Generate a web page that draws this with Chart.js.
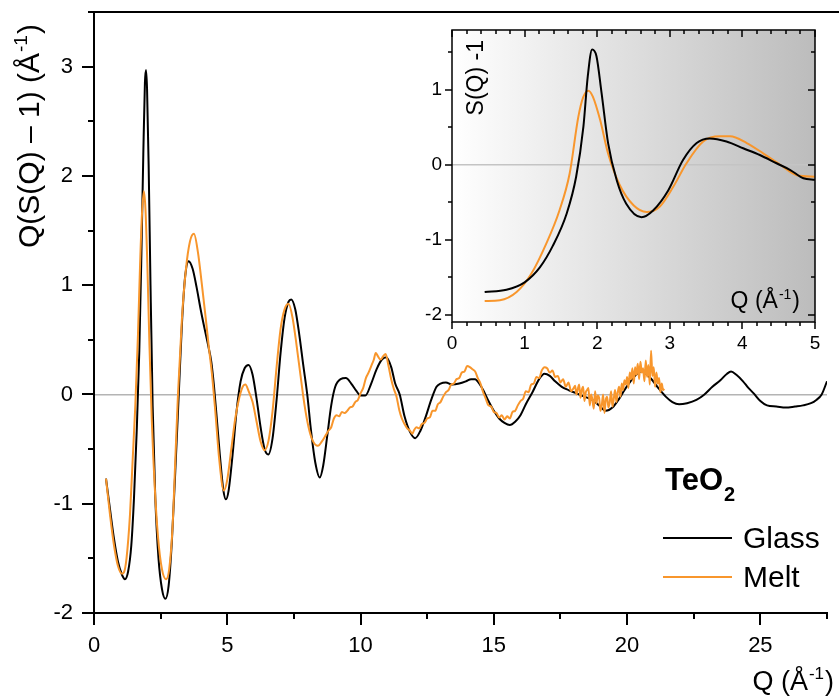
<!DOCTYPE html>
<html>
<head>
<meta charset="utf-8">
<title>TeO2 Q(S(Q)-1)</title>
<script src="https://cdn.jsdelivr.net/npm/chart.js@4.4.1/dist/chart.umd.min.js"></script>
<style>
  html, body { margin: 0; padding: 0; background: #fff; }
  #wrap { position: relative; width: 839px; height: 698px; }
  #main { position: absolute; left: 0; top: 0; }
  #inset { position: absolute; left: 400px; top: 0; }
</style>
</head>
<body>
<div id="wrap">
  <canvas id="main" width="839" height="698"></canvas>
  <canvas id="inset" width="439" height="360"></canvas>
</div>
<script>
// Main plot: Q(S(Q)-1) vs Q
const glassQ = [0.45, 0.6, 0.75, 0.9, 1.05, 1.16, 1.28, 1.4, 1.5, 1.6, 1.7, 1.78, 1.85, 1.91, 1.95, 1.99, 2.05, 2.12, 2.2, 2.3,
  2.42, 2.55, 2.68, 2.8, 2.92, 3.05, 3.18, 3.3, 3.42, 3.55, 3.7, 3.85, 4.0, 4.15, 4.3, 4.4, 4.5, 4.6, 4.72, 4.85,
  4.95, 5.05, 5.2, 5.35, 5.5, 5.65, 5.8, 5.95, 6.1, 6.25, 6.4, 6.54, 6.7, 6.85, 7.0, 7.15, 7.3, 7.4, 7.55, 7.7,
  7.85, 8.0, 8.15, 8.3, 8.47, 8.6, 8.75, 8.9, 9.05, 9.25, 9.45, 9.65, 9.85, 10.0, 10.18, 10.4, 10.6, 10.8, 10.97, 11.15,
  11.3, 11.47, 11.65, 11.85, 12.05, 12.25, 12.45, 12.65, 12.85, 13.0, 13.2, 13.45, 13.7, 13.95, 14.15, 14.3, 14.45, 14.6, 14.8, 15.0,
  15.2, 15.4, 15.6, 15.8, 16.0, 16.2, 16.45, 16.7, 16.9, 17.1, 17.3, 17.55, 17.8, 18.1, 18.4, 18.7, 18.95, 19.2, 19.45, 19.7,
  19.9, 20.1, 20.3, 20.5, 20.7, 20.95, 21.2, 21.45, 21.7, 21.95, 22.25, 22.6, 22.9, 23.2, 23.5, 23.75, 23.9, 24.1, 24.35, 24.55,
  24.75, 25.0, 25.25, 25.6, 25.95, 26.3, 26.6, 26.9, 27.1, 27.3, 27.5];
const glassS = [-0.77, -1.05, -1.32, -1.53, -1.65, -1.69, -1.62, -1.38, -0.95, -0.35, 0.4, 1.3, 2.2, 2.85, 2.97, 2.8, 2.1, 1.0, -0.1, -0.95,
  -1.5, -1.78, -1.87, -1.75, -1.35, -0.7, 0.0, 0.65, 1.08, 1.22, 1.15, 0.98, 0.78, 0.6, 0.43, 0.3, 0.08, -0.2, -0.55, -0.87,
  -0.96, -0.88, -0.55, -0.15, 0.12, 0.24, 0.27, 0.18, -0.04, -0.3, -0.5, -0.55, -0.4, -0.05, 0.38, 0.7, 0.85, 0.87, 0.78, 0.55,
  0.27, 0.0, -0.35, -0.62, -0.76, -0.65, -0.38, -0.1, 0.07, 0.14, 0.15, 0.1, 0.03, -0.01, -0.01, 0.1, 0.23, 0.32, 0.34, 0.25,
  0.1, 0.0, -0.2, -0.34, -0.4, -0.33, -0.2, -0.05, 0.07, 0.1, 0.11, 0.09, 0.1, 0.12, 0.14, 0.14, 0.1, 0.04, -0.06, -0.15,
  -0.22, -0.26, -0.28, -0.25, -0.19, -0.09, 0.02, 0.14, 0.19, 0.17, 0.12, 0.07, 0.04, 0.01, -0.02, -0.05, -0.1, -0.15, -0.12, -0.04,
  0.04, 0.11, 0.17, 0.21, 0.19, 0.13, 0.05, -0.02, -0.07, -0.09, -0.08, -0.05, 0.0, 0.07, 0.13, 0.19, 0.21, 0.18, 0.12, 0.06,
  0.01, -0.06, -0.1, -0.11, -0.12, -0.11, -0.1, -0.08, -0.05, 0.0, 0.12];

const meltQ = [0.45, 0.6, 0.75, 0.9, 1.05, 1.12, 1.22, 1.35, 1.45, 1.55, 1.65, 1.73, 1.8, 1.87, 1.93, 2.0, 2.08, 2.17, 2.28, 2.4,
  2.55, 2.7, 2.82, 2.95, 3.05, 3.15, 3.3, 3.45, 3.6, 3.75, 3.9, 4.05, 4.2, 4.3, 4.42, 4.55, 4.7, 4.87, 5.0, 5.15,
  5.3, 5.45, 5.6, 5.68, 5.8, 5.95, 6.1, 6.25, 6.4, 6.55, 6.7, 6.85, 7.0, 7.15, 7.3, 7.45, 7.6, 7.75, 7.9, 8.05,
  8.2, 8.4, 8.55, 8.7, 8.8, 8.9, 9.0, 9.1, 9.2, 9.3, 9.4, 9.5, 9.6, 9.7, 9.8, 9.9, 10.0, 10.1, 10.2, 10.3,
  10.4, 10.5, 10.57, 10.65, 10.75, 10.85, 10.94, 11.05, 11.15, 11.25, 11.35, 11.45, 11.55, 11.65, 11.75, 11.85, 11.95, 12.0, 12.1, 12.2,
  12.3, 12.4, 12.5, 12.6, 12.7, 12.8, 12.9, 13.0, 13.1, 13.2, 13.3, 13.4, 13.5, 13.6, 13.7, 13.8, 13.9, 14.0, 14.1, 14.2,
  14.3, 14.4, 14.5, 14.6, 14.7, 14.8, 14.9, 15.0, 15.1, 15.2, 15.3, 15.4, 15.5, 15.6, 15.7, 15.8, 15.9, 16.0, 16.1, 16.2,
  16.3, 16.4, 16.5, 16.6, 16.7, 16.8, 16.9, 17.0, 17.1, 17.2, 17.3, 17.4, 17.5, 17.6, 17.7, 17.8, 17.9,
  18.0, 18.05, 18.1, 18.15, 18.2, 18.25, 18.3, 18.35, 18.4, 18.45, 18.5, 18.55, 18.6, 18.65, 18.7, 18.75, 18.8, 18.85, 18.9, 18.95,
  19.0, 19.05, 19.1, 19.15, 19.2, 19.25, 19.3, 19.35, 19.4, 19.45, 19.5, 19.55, 19.6, 19.65, 19.7, 19.75, 19.8, 19.85, 19.9, 19.95,
  20.0, 20.05, 20.1, 20.15, 20.2, 20.25, 20.3, 20.35, 20.4, 20.45, 20.5, 20.55, 20.6, 20.65, 20.7, 20.75, 20.8, 20.85, 20.9, 20.95,
  21.0, 21.05, 21.1, 21.15, 21.2, 21.25, 21.3, 21.35, 21.4];
const meltS = [-0.77, -1.1, -1.38, -1.57, -1.64, -1.63, -1.5, -1.1, -0.6, -0.1, 0.55, 1.2, 1.65, 1.86, 1.7, 1.2, 0.45, -0.25, -0.85, -1.3,
  -1.6, -1.69, -1.6, -1.2, -0.6, 0.0, 0.7, 1.15, 1.4, 1.47, 1.3, 1.0, 0.68, 0.45, 0.2, -0.15, -0.6, -0.88, -0.78, -0.5,
  -0.22, -0.03, 0.08, 0.09, 0.03, -0.07, -0.25, -0.43, -0.51, -0.42, -0.15, 0.25, 0.6, 0.78, 0.83, 0.7, 0.45, 0.17, -0.1, -0.3,
  -0.42, -0.47, -0.43, -0.37, -0.33, -0.3, -0.22, -0.19, -0.2, -0.16, -0.17, -0.15, -0.12, -0.11, -0.07, -0.05, 0.01, 0.06, 0.15, 0.2,
  0.26, 0.32, 0.38, 0.35, 0.32, 0.35, 0.37, 0.26, 0.14, 0.05, -0.02, -0.14, -0.22, -0.27, -0.31, -0.33, -0.36, -0.33, -0.3, -0.31,
  -0.27, -0.26, -0.22, -0.21, -0.15, -0.15, -0.09, -0.07, -0.02, 0.02, 0.04, 0.09, 0.1, 0.14, 0.15, 0.2, 0.21, 0.26, 0.25, 0.23,
  0.21, 0.15, 0.1, 0.02, -0.04, -0.1, -0.11, -0.16, -0.17, -0.21, -0.19, -0.23, -0.2, -0.22, -0.16, -0.15, -0.1, -0.06, -0.04, 0.03,
  0.02, 0.09, 0.1, 0.16, 0.15, 0.22, 0.25, 0.24, 0.2, 0.22, 0.16, 0.17, 0.11, 0.14, 0.07, 0.11, 0.03,
  0.06, 0.08, 0.0, 0.05, 0.09, -0.03, 0.04, 0.07, -0.06, 0.02, 0.04, 0.06, -0.1, 0.0, -0.05, -0.13, 0.03, -0.08, -0.01, -0.03,
  -0.15, -0.1, 0.0, -0.17, -0.05, -0.02, -0.12, -0.07, 0.03, -0.11, -0.04, 0.04, -0.07, 0.02, 0.07, -0.02, 0.1, 0.04, 0.13, 0.09,
  0.16, 0.06, 0.2, 0.14, 0.24, 0.1, 0.25, 0.18, 0.28, 0.14, 0.3, 0.2, 0.24, 0.12, 0.31, 0.16, 0.27, 0.09, 0.4, 0.17,
  0.25, 0.07, 0.2, 0.1, 0.15, 0.02, 0.1, 0.04, 0.05];

// Inset: S(Q) - 1 at low Q
const insetGlassQ = [0.45, 0.75, 1.0, 1.21, 1.39, 1.58, 1.71, 1.81, 1.87, 1.93, 1.99, 2.06, 2.15, 2.27, 2.4, 2.61, 2.77, 2.98, 3.18, 3.37,
  3.55, 3.78, 4.01, 4.24, 4.47, 4.66, 4.84, 5.0];
const insetGlassS = [-1.7, -1.67, -1.57, -1.37, -1.08, -0.65, -0.16, 0.51, 1.18, 1.54, 1.45, 0.96, 0.29, -0.21, -0.52, -0.7, -0.61, -0.34, 0.06, 0.29,
  0.35, 0.31, 0.22, 0.13, 0.02, -0.07, -0.18, -0.2];
const insetMeltQ = [0.45, 0.66, 0.89, 1.09, 1.3, 1.48, 1.62, 1.74, 1.81, 1.88, 1.94, 2.04, 2.15, 2.31, 2.5, 2.68, 2.86, 3.05, 3.23, 3.46,
  3.69, 3.83, 4.06, 4.29, 4.52, 4.75, 5.0];
const insetMeltS = [-1.82, -1.81, -1.7, -1.46, -1.05, -0.61, -0.12, 0.64, 0.91, 0.99, 0.91, 0.6, 0.15, -0.27, -0.54, -0.63, -0.56, -0.29, 0.02, 0.31,
  0.38, 0.38, 0.29, 0.15, 0.0, -0.14, -0.16];

// Tick labels
const mainXLabels = [0, 5, 10, 15, 20, 25];
const mainYLabels = [-2, -1, 0, 1, 2, 3];
const insetXLabels = [0, 1, 2, 3, 4, 5];
const insetYLabels = [-2, -1, 0, 1];

const FONT = '"Liberation Sans", Arial, sans-serif';
const ORANGE = '#f8962c';

function pairs(xs, ys) {
  return xs.map((q, i) => ({ x: q, y: ys[i] }));
}

// "base(Å" + superscript -1 + ")"
function drawUnitLabel(ctx, x, y, base, size, align) {
  const big = `${size}px ${FONT}`;
  const small = `${Math.round(size * 0.62)}px ${FONT}`;
  ctx.font = big;
  const w1 = ctx.measureText(base + '(Å').width;
  const w3 = ctx.measureText(')').width;
  ctx.font = small;
  const w2 = ctx.measureText('-1').width;
  const sx = align === 'right' ? x - (w1 + w2 + w3 + 2) : x;
  ctx.textAlign = 'left';
  ctx.textBaseline = 'alphabetic';
  ctx.fillStyle = '#000';
  ctx.font = big;
  ctx.fillText(base + '(Å', sx, y);
  ctx.font = small;
  ctx.fillText('-1', sx + w1 + 1, y - size * 0.4);
  ctx.font = big;
  ctx.fillText(')', sx + w1 + w2 + 2, y);
}

function tick(ctx, x1, y1, x2, y2) {
  ctx.moveTo(x1, y1);
  ctx.lineTo(x2, y2);
}

// no extra room for half tick labels above/below the plot
function fixPadding(s) {
  s.paddingTop = 0;
  s.paddingBottom = 0;
}

const mainDecor = {
  id: 'mainDecor',
  afterDraw(chart) {
    const { ctx, chartArea: a, scales: { x, y } } = chart;
    ctx.save();
    ctx.strokeStyle = '#000';
    ctx.lineWidth = 2;
    ctx.beginPath();
    tick(ctx, a.left - 1, a.top, chart.width, a.top);
    for (let v = 0; v <= 27.5; v += 2.5) {
      const px = Math.round(x.getPixelForValue(v));
      tick(ctx, px, a.bottom, px, a.bottom + (v % 5 === 0 ? 12 : 6));
    }
    for (let v = -2; v <= 3.5; v += 0.5) {
      const py = Math.round(y.getPixelForValue(v));
      tick(ctx, a.left, py, a.left - (Number.isInteger(v) ? 12 : 6), py);
    }
    ctx.stroke();

    // axis titles
    ctx.save();
    ctx.translate(39, 248);
    ctx.rotate(-Math.PI / 2);
    drawUnitLabel(ctx, 0, 0, 'Q(S(Q) – 1) ', 30, 'left');
    ctx.restore();
    drawUnitLabel(ctx, 834, 690, 'Q ', 27, 'right');

    // legend
    ctx.fillStyle = '#000';
    ctx.textAlign = 'left';
    ctx.textBaseline = 'alphabetic';
    ctx.font = `bold 31px ${FONT}`;
    ctx.fillText('TeO', 665, 490);
    const w = ctx.measureText('TeO').width;
    ctx.font = `bold 20px ${FONT}`;
    ctx.fillText('2', 665 + w + 1, 501);
    ctx.lineWidth = 2;
    ctx.beginPath();
    ctx.strokeStyle = '#000';
    tick(ctx, 663, 538, 732, 538);
    ctx.stroke();
    ctx.beginPath();
    ctx.strokeStyle = ORANGE;
    tick(ctx, 663, 577, 732, 577);
    ctx.stroke();
    ctx.font = `30px ${FONT}`;
    ctx.fillText('Glass', 743, 548);
    ctx.fillText('Melt', 743, 587);
    ctx.restore();
  }
};

const insetDecor = {
  id: 'insetDecor',
  beforeDraw(chart) {
    const { ctx, chartArea: a } = chart;
    const g = ctx.createLinearGradient(a.left, 0, a.right, 0);
    g.addColorStop(0, '#ffffff');
    g.addColorStop(1, '#bcbcbc');
    ctx.save();
    ctx.fillStyle = g;
    ctx.fillRect(a.left, a.top, a.right - a.left, a.bottom - a.top);
    ctx.restore();
  },
  afterDraw(chart) {
    const { ctx, chartArea: a, scales: { x, y } } = chart;
    ctx.save();
    ctx.strokeStyle = '#000';
    ctx.lineWidth = 1.5;
    ctx.strokeRect(a.left, a.top, a.right - a.left, a.bottom - a.top);
    ctx.beginPath();
    for (let i = 0; i <= 25; i++) {
      const px = Math.round(x.getPixelForValue(i * 0.2));
      const len = i % 5 === 0 ? 7 : 4;
      tick(ctx, px, a.bottom, px, a.bottom + len);
      tick(ctx, px, a.top, px, a.top + len);
    }
    for (let v = -2; v <= 1.5; v += 0.5) {
      const py = Math.round(y.getPixelForValue(v));
      const len = Number.isInteger(v) ? 7 : 4;
      tick(ctx, a.left, py, a.left - len, py);
      tick(ctx, a.right, py, a.right - len, py);
    }
    ctx.stroke();

    ctx.save();
    ctx.translate(83, 40);
    ctx.rotate(-Math.PI / 2);
    ctx.fillStyle = '#000';
    ctx.font = `23px ${FONT}`;
    ctx.textAlign = 'right';
    ctx.textBaseline = 'alphabetic';
    ctx.fillText('S(Q) -1', 0, 0);
    ctx.restore();
    drawUnitLabel(ctx, 400, 308, 'Q ', 23, 'right');
    ctx.restore();
  }
};

const tickFont = size => ({ family: FONT, size: size });

document.addEventListener('DOMContentLoaded', () => {
  new Chart(document.getElementById('main'), {
    type: 'line',
    data: {
      datasets: [
        { label: 'Melt', data: pairs(meltQ, meltS), borderColor: ORANGE, borderWidth: 2, pointRadius: 0, cubicInterpolationMode: 'monotone', order: 0 },
        { label: 'Glass', data: pairs(glassQ, glassS), borderColor: '#000', borderWidth: 2, pointRadius: 0, cubicInterpolationMode: 'monotone', order: 1 }
      ]
    },
    options: {
      responsive: false,
      animation: false,
      events: [],
      layout: { padding: { top: 12, right: 12, left: 0, bottom: 0 } },
      plugins: { legend: { display: false }, tooltip: { enabled: false } },
      scales: {
        x: {
          type: 'linear', min: 0, max: 27.5,
          afterBuildTicks: s => { s.ticks = mainXLabels.map(v => ({ value: v })); },
          afterFit: s => { s.height = 85; },
          grid: { display: true, drawTicks: false, color: 'rgba(0,0,0,0)' },
          border: { display: true, color: '#000', width: 2 },
          ticks: { font: tickFont(22), color: '#000', padding: 20, maxRotation: 0 }
        },
        y: {
          type: 'linear', min: -2, max: 3.5,
          afterBuildTicks: s => { s.ticks = mainYLabels.map(v => ({ value: v })); },
          afterFit: s => { s.width = 94; fixPadding(s); },
          grid: { drawTicks: false, lineWidth: 1.5, color: c => (c.tick && c.tick.value === 0 ? '#b4b4b4' : 'rgba(0,0,0,0)') },
          border: { display: true, color: '#000', width: 2 },
          ticks: { font: tickFont(22), color: '#000', padding: 21 }
        }
      }
    },
    plugins: [mainDecor]
  });

  new Chart(document.getElementById('inset'), {
    type: 'line',
    data: {
      datasets: [
        { label: 'Glass', data: pairs(insetGlassQ, insetGlassS), borderColor: '#000', borderWidth: 2, pointRadius: 0, cubicInterpolationMode: 'monotone', order: 0 },
        { label: 'Melt', data: pairs(insetMeltQ, insetMeltS), borderColor: ORANGE, borderWidth: 2, pointRadius: 0, cubicInterpolationMode: 'monotone', order: 1 }
      ]
    },
    options: {
      responsive: false,
      animation: false,
      events: [],
      layout: { padding: { top: 30, right: 24, left: 0, bottom: 0 } },
      plugins: { legend: { display: false }, tooltip: { enabled: false } },
      scales: {
        x: {
          type: 'linear', min: 0, max: 5,
          afterBuildTicks: s => { s.ticks = insetXLabels.map(v => ({ value: v })); },
          afterFit: s => { s.height = 38; },
          grid: { display: true, drawTicks: false, color: 'rgba(0,0,0,0)' },
          border: { display: false },
          ticks: { font: tickFont(19), color: '#000', padding: 10, maxRotation: 0 }
        },
        y: {
          type: 'linear', min: -2.1, max: 1.8,
          afterBuildTicks: s => { s.ticks = insetYLabels.map(v => ({ value: v })); },
          afterFit: s => { s.width = 52; fixPadding(s); },
          grid: { drawTicks: false, lineWidth: 1.5, color: c => (c.tick && c.tick.value === 0 ? '#c4c4c4' : 'rgba(0,0,0,0)') },
          border: { display: false },
          ticks: { font: tickFont(19), color: '#000', padding: 10 }
        }
      }
    },
    plugins: [insetDecor]
  });
});
</script>
</body>
</html>
